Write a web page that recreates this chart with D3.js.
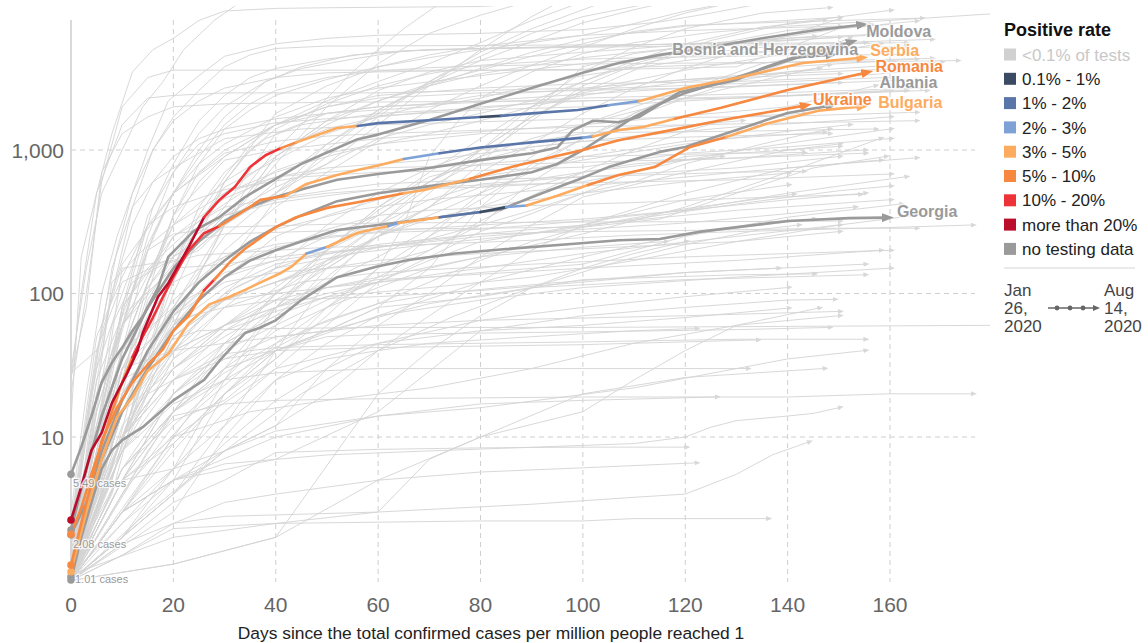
<!DOCTYPE html>
<html>
<head>
<meta charset="utf-8">
<title>Days since the total confirmed cases per million people reached 1</title>
<script src="https://cdn.jsdelivr.net/npm/d3@7"></script>
<style>
  body { margin: 0; background: #fff; }
  text { font-family: "Liberation Sans", Arial, Helvetica, sans-serif; }
</style>
</head>
<body>
<div id="chart"></div>
<script>
// ---- data ----------------------------------------------------------------
const rateBands = ["<0.1% of tests", "0.1% - 1%", "1% - 2%", "2% - 3%", "3% - 5%",
                   "5% - 10%", "10% - 20%", "more than 20%", "no testing data"];
const xTicks = [0, 20, 40, 60, 80, 100, 120, 140, 160];
const yTicks = [10, 100, 1000];
const dateFrom = ["Jan", "26,", "2020"];
const dateTo = ["Aug", "14,", "2020"];

// highlighted countries: [day, cases per million]
const moldova = [[0,5.49],[2,8.5],[4,14],[6,24],[8,33],[10,42],[12,55],[14,69],[17,110],[19,180],[24,273],[29,341],[34,470],[40,630],[45,800],[50,960],[56,1190],[60,1280],[70,1620],[80,2100],[90,2700],[100,3450],[107,4040],[115,4600],[125,5200],[135,6000],[145,6800],[154,7430]];
const bosnia = [[0,2.08],[3,3.5],[6,8],[10,18],[15,40],[20,75],[25,120],[30,170],[35,230],[40,290],[45,350],[52,440],[60,500],[70,560],[80,620],[90,700],[95,800],[100,1000],[105,1300],[110,1700],[115,2100],[120,2500],[130,3200],[140,4200],[152,5600]];
const montenegro = [[0,2.25],[3,6],[6,14],[10,35],[15,80],[20,150],[25,230],[30,320],[35,400],[40,470],[45,530],[52,620],[60,680],[70,750],[80,850],[90,950],[95,1040],[98,1370],[102,1600],[107,1560],[111,1700],[119,2540],[130,3080],[135,3700],[141,4400],[148,4600]];
const albania = [[0,1.06],[3,3],[6,7],[10,15],[15,30],[20,55],[25,90],[30,130],[35,170],[40,200],[45,230],[52,277],[60,300],[72,340],[84,385],[92,500],[99,620],[105,760],[115,970],[120,1050],[130,1380],[140,1810],[148,2030]];
const georgia = [[0,1.01],[2,2],[4,3.5],[6,6],[8,8.1],[10,9.5],[14,11.7],[20,18],[26,25],[29,34],[34,53],[37,58],[40,65],[45,90],[52,130],[60,155],[66,171],[75,190],[85,204],[99,223],[107,235],[115,240],[123,270],[140,320],[152,335],[159,338]];
const serbia = [[0,2.64],[2,4.5],[4,8.1],[6,10.7],[8,17.3],[11,28],[13,40],[14,53],[17,95],[19,118],[23,211],[26,341],[29,449],[32,552],[35,762],[38,920],[41,1030],[44,1130],[47,1233],[52,1423],[56,1470],[60,1540],[70,1610],[80,1700],[84,1730],[90,1800],[99,1900],[105,2050],[111,2190],[120,2700],[130,3180],[143,4040],[154,4380]];
const romania = [[0,2.1],[2,3.2],[4,5.5],[6,9],[8,15],[10,24],[12,36],[14,50],[16,68],[18,95],[20,130],[23,200],[26,263],[29,295],[33,361],[37,449],[42,480],[46,580],[52,670],[56,725],[60,780],[65,865],[72,950],[80,1040],[90,1130],[100,1220],[102,1240],[107,1380],[112,1450],[118,1650],[127,1970],[140,2620],[155,3440]];
const ukraine = [[0,1.28],[2,2.5],[4,4.8],[6,9.5],[9,16],[12,24],[15,32],[18,41],[20,55],[23,70],[26,105],[28,125],[31,165],[34,205],[40,290],[44,340],[50,395],[56,433],[60,460],[65,500],[69,526],[78,630],[86,760],[94,893],[100,1000],[107,1170],[117,1370],[127,1610],[136,1830],[143,2030]];
const bulgaria = [[0,1.15],[3,3],[6,7],[9,13.8],[12,19],[15,29],[19,38],[23,62],[27,84],[31,95],[34,106],[38,124],[41,139],[43,153],[46,190],[50,211],[56,265],[62,295],[64,310],[72,340],[80,370],[85,400],[89,410],[95,480],[101,570],[107,670],[114,760],[121,1050],[128,1230],[136,1530],[146,1880],[154,2000]];

// positive-rate bands along each coloured line: [fromDay, toDay, band index]
const serbiaRate = [[0,26,7],[26,41,6],[41,44,5],[44,56,4],[56,80,2],[80,84,1],[84,105,2],[105,111,3],[111,154,4]];
const romaniaRate = [[0,12,5],[12,29,6],[29,42,5],[42,65,4],[65,72,3],[72,100,2],[100,102,3],[102,118,4],[118,155,5]];
const ukraineRate = [[0,26,5],[26,28,6],[28,65,5],[65,78,4],[78,143,5]];
const bulgariaRate = [[0,46,4],[46,50,3],[50,62,4],[62,64,3],[64,72,4],[72,80,2],[80,85,1],[85,89,3],[89,101,4],[101,128,5],[128,154,4]];

const greyNames = ["Moldova", "Bosnia and Herzegovina", "", "Albania", "Georgia"];
const greySeries = [moldova, bosnia, montenegro, albania, georgia];
const colourNames = ["Bulgaria", "Ukraine", "Romania", "Serbia"];
const colourSeries = [bulgaria, ukraine, romania, serbia];
const colourRates = [bulgariaRate, ukraineRate, romaniaRate, serbiaRate];

// every other country, thin grey
const others = [
  [[0,13],[2,180],[5,500],[8,1300],[12,3500],[16,5000],[20,6000],[25,8000],[30,9300],[40,9700],[50,9800],[80,10000],[100,11000]],
  [[0,29],[3,150],[6,500],[10,1000],[14,2000],[18,3000],[22,5000],[28,8000],[35,12000]],
  [[0,1.6],[3,13],[6,60],[9,200],[12,500],[15,1000],[19,2200],[25,3300],[30,4500],[40,5500],[50,6000],[60,6300],[80,6500],[100,6900],[115,7800],[125,9000],[135,10500]],
  [[0,2.9],[3,20],[6,100],[9,250],[12,500],[16,1000],[20,1700],[25,2600],[30,3800],[35,4600],[40,5100],[50,5300],[80,5350],[120,5450],[150,5600],[168,5900]],
  [[0,1.1],[5,10],[10,150],[15,160],[20,170],[25,200],[30,300],[35,600],[40,1000],[45,1500],[50,2300],[55,3500],[60,5000],[65,7000],[72,10500]],
  [[0,28],[5,40],[10,120],[20,180],[30,300],[40,500],[50,900],[60,1700],[70,3000],[80,4800],[90,7000],[100,9500],[105,11000]],
  [[0,1.8],[4,8],[8,40],[12,130],[16,400],[20,800],[25,1600],[30,2400],[35,3200],[40,3700],[50,4300],[60,4800],[70,5000],[80,5100],[100,5250],[120,5500],[135,5800],[150,7000],[165,7900]],
  [[0,1.3],[4,5],[8,30],[12,100],[16,250],[20,500],[25,900],[30,1500],[35,2100],[40,2600],[50,3200],[60,3550],[70,3750],[80,3850],[100,3970],[130,4060],[160,4130],[173,4200]],
  [[0,1.05],[5,4],[10,25],[15,100],[20,350],[25,800],[30,1400],[35,1900],[40,2400],[50,3100],[60,3800],[70,4400],[80,5000],[90,5600],[100,6300],[110,7600],[120,9300],[128,10500]],
  [[0,1.2],[5,15],[10,60],[15,250],[20,700],[25,1300],[30,2000],[38,3000],[45,3700],[55,4300],[65,4900],[80,5100],[100,5300],[130,5600],[150,6100],[164,6600]],
  [[0,2.4],[4,20],[8,100],[12,400],[16,1000],[20,1600],[25,2200],[30,2700],[40,3200],[50,3450],[70,3550],[100,3650],[130,4000],[150,4200],[168,4350]],
  [[0,1.2],[5,8],[10,40],[15,200],[20,500],[25,1000],[30,1700],[38,3000],[45,3800],[55,4600],[70,5000],[100,5200],[130,5350],[163,5600]],
  [[0,1.0],[8,5],[14,30],[20,120],[25,300],[30,600],[35,1000],[40,1400],[50,2100],[60,2800],[70,3400],[80,3900],[100,4300],[120,4450],[140,4550],[165,4640]],
  [[0,1.1],[8,6],[14,40],[20,150],[25,350],[30,650],[35,1100],[40,1500],[50,2000],[60,2300],[80,2500],[100,2600],[130,2750],[165,3100]],
  [[0,1.2],[5,5],[10,25],[15,120],[20,350],[25,700],[30,1000],[40,1500],[50,1800],[60,2000],[80,2150],[100,2300],[130,2450],[166,2700]],
  [[0,1.1],[5,8],[10,40],[15,120],[20,300],[25,600],[30,900],[40,1500],[50,2000],[60,2400],[80,2700],[100,2900],[130,3000],[150,3200],[166,3600]],
  [[0,1.2],[5,20],[10,60],[15,110],[20,180],[30,500],[40,900],[50,1500],[60,2200],[70,2900],[80,3600],[90,4500],[100,5500],[110,6700],[120,7400],[140,7800],[166,8300]],
  [[0,1.5],[4,20],[8,150],[12,400],[16,600],[20,750],[30,1200],[45,1400],[60,1500],[100,1650],[140,1720],[165,1830]],
  [[0,1.4],[4,10],[8,120],[14,200],[20,300],[30,600],[40,1000],[50,1400],[60,1700],[80,2000],[100,2200],[130,2300],[163,2600]],
  [[0,1.2],[5,10],[10,80],[15,350],[20,700],[25,1100],[30,1300],[40,1550],[50,1650],[80,1900],[100,2000],[130,2300],[167,2600]],
  [[0,1.0],[5,8],[10,60],[15,220],[20,500],[25,800],[30,1100],[40,1700],[50,2300],[60,2700],[80,3300],[100,4000],[120,4500],[140,5000],[163,5300]],
  [[0,1.2],[10,6],[20,13],[30,18],[40,35],[50,80],[60,150],[65,300],[70,900],[75,1500],[80,2300],[90,3500],[100,4700],[110,5600],[125,6600],[140,7300],[160,8000],[180,8900]],
  [[0,1.3],[8,5],[14,30],[20,150],[25,400],[30,700],[38,1200],[45,1500],[60,1800],[80,1950],[95,2200],[105,3000],[115,4300],[125,5800],[140,7600],[160,9400]],
  [[0,1.1],[5,10],[10,40],[15,80],[20,150],[30,350],[40,550],[50,800],[60,1500],[70,2800],[80,5000],[90,8500],[96,11000]],
  [[0,1.2],[5,4],[10,10],[15,30],[20,60],[30,150],[40,450],[50,1000],[60,1900],[70,2900],[80,4200],[90,5700],[100,7700],[110,9500],[118,11000]],
  [[0,1.0],[5,5],[10,15],[15,40],[20,70],[30,200],[40,400],[50,700],[60,1150],[70,1900],[80,2800],[90,3900],[100,5200],[110,7000],[120,9000],[130,10800]],
  [[0,2.4],[5,40],[10,160],[20,500],[30,900],[40,1500],[50,2200],[60,3000],[70,4000],[80,5600],[90,8000],[100,10800]],
  [[0,1.3],[5,20],[10,40],[20,80],[30,300],[40,800],[50,2000],[60,4000],[70,6500],[80,8700],[88,10500]],
  [[0,1.0],[10,15],[20,60],[30,300],[40,900],[50,1600],[60,2600],[70,3500],[80,4200],[100,4800],[120,5400],[140,6000],[165,6600]],
  [[0,1.0],[10,20],[20,80],[30,250],[40,500],[50,1100],[60,1900],[70,2800],[80,3700],[90,4800],[100,5900],[120,7300],[150,8400]],
  [[0,1.0],[10,10],[20,60],[30,300],[40,900],[50,1600],[60,2200],[70,2800],[80,3400],[100,4400],[120,5200],[150,6100]],
  [[0,1.3],[10,10],[20,100],[30,600],[40,1800],[50,2800],[60,3800],[70,4600],[80,5300],[100,6300],[120,6800],[150,7300]],
  [[0,1.1],[4,15],[8,100],[12,300],[16,600],[20,900],[25,1200],[30,1400],[40,1650],[50,1800],[60,2000],[80,2200],[100,2450],[120,2700],[150,2950]],
  [[0,1.3],[5,10],[10,80],[15,150],[20,220],[25,320],[30,420],[40,720],[50,950],[60,1100],[70,1300],[80,1600],[90,2000],[100,2400],[120,3000],[140,3500],[170,4100]],
  [[0,1.1],[8,4],[14,25],[20,150],[25,300],[30,550],[40,850],[50,1300],[60,1700],[70,2100],[80,2400],[100,2650],[130,2900],[159,3200]],
  [[0,1.0],[10,4],[20,15],[30,45],[40,100],[50,200],[60,350],[70,600],[80,900],[90,1200],[100,1500],[120,2300],[148,3900]],
  [[0,1.0],[10,8],[20,25],[30,55],[40,90],[50,150],[60,250],[70,400],[80,700],[90,1100],[100,1800],[110,2700],[120,3700],[135,5500],[150,8200]],
  [[0,1.0],[10,10],[20,40],[30,60],[40,80],[50,120],[60,180],[70,280],[80,450],[90,750],[100,1200],[110,1700],[120,2300],[135,3500],[152,6000]],
  [[0,1.0],[10,10],[20,25],[30,45],[40,70],[50,130],[60,250],[70,500],[80,1000],[90,2000],[100,3500],[110,5200],[120,7000],[135,9000],[148,9800]],
  [[0,1.0],[10,3],[20,9],[30,20],[40,45],[50,80],[60,130],[70,200],[80,320],[90,480],[100,700],[110,1000],[120,1350],[130,1700],[143,1800]],
  [[0,1.1],[10,10],[20,30],[30,60],[40,100],[50,170],[60,300],[70,550],[80,850],[90,1050],[100,1150],[120,1230],[148,1300]],
  [[0,1.0],[10,8],[20,35],[30,80],[40,150],[50,300],[60,500],[70,750],[80,1000],[100,1300],[131,1600]],
  [[0,1.0],[10,5],[20,15],[30,28],[40,45],[50,65],[60,85],[70,120],[80,170],[90,230],[100,290],[120,390],[141,490]],
  [[0,1.0],[10,25],[20,40],[30,60],[40,80],[50,100],[60,120],[70,180],[80,270],[90,360],[100,500],[110,600],[120,800],[135,1100],[148,1400]],
  [[0,1.1],[10,2.5],[20,6],[30,25],[40,80],[50,110],[60,125],[70,130],[80,140],[100,160],[120,250],[140,340],[162,420]],
  [[0,1.2],[4,10],[8,60],[12,120],[18,160],[25,185],[35,195],[50,210],[70,220],[90,235],[110,255],[130,270],[155,285],[176,300]],
  [[0,1.0],[5,5],[10,20],[15,35],[20,48],[25,55],[30,56],[40,57],[60,58],[100,58],[140,59],[180,60]],
  [[0,1.1],[5,3],[10,20],[15,90],[20,180],[25,240],[30,260],[45,270],[60,280],[80,285],[100,290],[115,330],[130,500],[145,750],[159,900]],
  [[0,1.5],[5,10],[10,70],[15,200],[20,260],[30,290],[45,300],[60,310],[100,315],[140,318],[150,320]],
  [[0,1.2],[5,3],[10,8],[15,20],[20,25],[30,38],[40,42],[60,44],[100,46],[130,48],[155,48]],
  [[0,1.0],[10,1.5],[20,2.5],[30,2.8],[60,3.0],[90,3.4],[110,3.8],[120,4.0],[130,5.5],[137,7.5],[144,9.2]],
  [[0,1.1],[5,2],[10,4],[15,8],[20,14],[30,17],[40,18],[60,18.5],[100,19],[140,19],[160,20],[176,20]],
  [[0,1.0],[10,3],[20,8],[30,20],[40,35],[50,70],[60,150],[70,250],[80,400],[90,550],[100,700],[110,800],[120,850],[155,950]],
  [[0,1.0],[10,6],[20,15],[30,30],[40,55],[50,80],[60,110],[70,150],[80,180],[100,210],[116,230]],
  [[0,1.0],[10,15],[20,45],[30,90],[40,120],[50,170],[60,210],[70,240],[80,300],[90,380],[100,500],[110,700],[120,900],[140,1000],[150,1060]],
  [[0,1.0],[5,5],[10,30],[15,70],[20,120],[30,180],[40,220],[60,270],[80,300],[100,330],[120,380],[140,500],[163,650]],
  [[0,1.0],[5,5],[10,40],[15,120],[20,250],[30,460],[40,650],[50,750],[70,850],[90,1050],[110,1250],[130,1450],[150,1600],[160,1700]],
  [[0,1.0],[10,15],[20,60],[30,130],[40,250],[50,350],[60,450],[70,550],[80,650],[100,850],[120,1100],[140,1350],[152,1500]],
  [[0,1.0],[10,10],[20,50],[30,100],[40,200],[50,280],[60,350],[70,380],[90,410],[110,430],[130,460],[154,490]],
  [[0,1.0],[10,20],[20,70],[30,150],[40,210],[50,250],[60,265],[80,280],[100,320],[120,380],[140,450],[155,500]],
  [[0,1.2],[5,10],[10,40],[20,150],[30,350],[40,450],[50,500],[60,530],[80,550],[100,600],[110,700],[120,850],[135,1050],[150,1250],[160,1400]],
  [[0,2.5],[5,50],[10,130],[15,300],[20,400],[30,530],[45,650],[60,700],[80,720],[100,760],[110,850],[120,950],[140,1050],[160,1200]],
  [[0,1.3],[5,15],[10,60],[20,160],[30,500],[40,700],[50,900],[60,1100],[80,1300],[100,1320],[130,1350],[157,1400]],
  [[0,2.3],[5,30],[10,100],[15,300],[20,500],[30,950],[40,1150],[50,1250],[60,1300],[100,1450],[130,1520],[165,1600]],
  [[0,1.6],[5,20],[10,60],[20,200],[30,350],[40,430],[50,480],[60,530],[80,570],[100,590],[130,620],[160,680]],
  [[0,1.5],[5,10],[10,80],[20,250],[30,400],[40,460],[50,520],[60,580],[80,620],[100,650],[130,750],[150,900]],
  [[0,1.0],[10,10],[20,50],[30,90],[40,120],[50,150],[60,170],[70,180],[80,190],[100,205],[130,230],[150,270]],
  [[0,2.3],[5,25],[10,70],[20,150],[30,160],[40,180],[60,210],[80,250],[100,280],[120,310],[140,360],[153,400]],
  [[0,1.0],[5,8],[10,40],[20,150],[30,300],[40,600],[50,1100],[60,1800],[70,3000],[80,4500],[90,6500],[100,8500],[110,10000],[115,10800]],
  [[0,1.0],[10,10],[20,30],[30,60],[40,110],[50,200],[60,380],[70,600],[80,900],[90,1600],[100,2800],[110,3900],[120,4600],[135,5200],[150,5600]],
  [[0,1.0],[10,10],[20,50],[30,90],[40,120],[50,160],[60,250],[70,400],[80,800],[90,1800],[100,3800],[110,4700],[120,5200],[140,6000],[145,6200]],
  [[0,1.0],[10,15],[20,70],[30,140],[40,170],[50,250],[60,350],[70,600],[80,1000],[90,1700],[100,2500],[110,2900],[120,3100],[150,3400]],
  [[0,1.0],[10,1.5],[20,2.3],[40,2.5],[80,2.6],[100,2.6],[110,2.7],[136,2.7]],
  [[0,1.0],[10,1.8],[20,2.5],[30,3.5],[40,4.0],[60,5.0],[80,5.7],[100,6.1],[122,6.6]],
  [[0,1.0],[10,1.8],[20,3.5],[30,5],[40,7.8],[60,8.2],[80,8.4],[100,8.5],[120,8.5]],
  [[0,1.0],[10,3],[20,5],[30,6.5],[50,7.5],[70,8],[110,9],[120,10],[125,11.7],[130,13],[140,14],[145,14.6],[150,16]],
  [[0,1.0],[20,1.3],[40,2],[60,5],[80,10],[100,20],[120,26],[147,30]],
  [[0,1.0],[10,5],[20,9],[30,20],[40,40],[50,55],[60,80],[80,95],[100,125],[130,135],[145,137]],
  [[0,1.0],[10,3],[20,5],[40,7],[60,15],[80,55],[100,70],[120,80],[140,90],[149,91]],
  [[0,1.1],[20,2],[40,2.5],[60,3],[70,7],[80,10],[100,15],[110,25],[120,40],[130,60],[146,79]],
  [[0,1.0],[20,3],[30,10],[40,25],[50,35],[60,40],[70,45],[90,50],[110,55],[122,57]],
  [[0,1.0],[10,3],[20,5],[30,20],[40,40],[50,50],[60,52],[100,54],[130,56],[148,58]],
  [[0,1.0],[10,10],[20,25],[30,35],[40,40],[60,42],[100,44],[134,47.5]],
  [[0,1.1],[10,8],[20,17],[30,25],[40,28],[60,30],[100,30],[132,30]],
  [[0,1.0],[10,2],[20,5],[40,10],[60,14],[80,17],[100,18],[126,19]],
  [[0,1.0],[20,10],[40,30],[60,45],[80,55],[100,60],[120,68],[140,79]],
  [[0,1.0],[5,5],[10,40],[20,150],[30,400],[40,1300],[50,1800],[60,1900],[70,2000],[80,2300],[90,2800],[100,3300],[120,4200],[140,5000],[155,5600]],
  [[0,1.0],[10,6],[20,15],[30,40],[40,100],[50,200],[60,400],[70,700],[80,1200],[90,2000],[100,3000],[110,4200],[120,5500],[135,7200],[147,8000]],
  [[0,1.0],[10,30],[20,70],[30,120],[40,140],[60,160],[70,200],[80,300],[90,600],[100,1000],[110,1800],[120,2600],[135,4000],[158,5500]],
  [[0,1.0],[10,2],[20,6],[30,15],[40,30],[50,60],[60,120],[70,250],[80,500],[90,900],[100,1500],[110,2000],[120,2600],[140,3500],[146,3700]],
  [[0,1.1],[10,30],[20,150],[30,300],[40,500],[50,800],[60,1200],[70,1500],[80,1800],[90,2200],[100,3000],[110,4000],[120,5000],[140,6800],[156,7500]],
  [[0,1.0],[10,5],[20,15],[30,30],[40,40],[50,55],[60,80],[70,150],[80,400],[90,800],[100,1200],[110,1800],[120,2500],[140,3800],[165,4300]],
  [[0,1.0],[10,20],[20,60],[30,90],[40,100],[50,110],[60,130],[80,180],[100,260],[120,400],[140,700],[158,1200]],
  [[0,1.0],[10,5],[20,20],[30,40],[40,60],[50,90],[60,120],[70,170],[80,230],[100,300],[120,500],[140,750],[158,850]],
  [[0,1.0],[10,5],[20,20],[30,40],[40,80],[50,170],[60,250],[70,350],[80,500],[90,700],[100,900],[120,1150],[147,1330]],
  [[0,1.0],[10,2],[20,4],[30,8],[40,12],[50,20],[60,40],[70,70],[80,120],[90,200],[100,300],[120,450],[140,570]],
  [[0,1.0],[10,3],[20,10],[30,30],[40,80],[50,200],[60,400],[70,650],[80,800],[100,900],[130,950],[143,960]],
  [[0,1.0],[10,2],[20,4],[30,12],[40,40],[50,120],[60,270],[70,400],[80,550],[100,700],[120,850],[127,900]],
  [[0,1.0],[10,25],[20,80],[30,130],[40,170],[50,190],[60,210],[80,260],[100,270],[120,275],[150,285],[165,285]],
  [[0,1.0],[10,5],[20,6],[30,8],[40,12],[50,30],[60,60],[70,100],[80,180],[90,300],[100,470],[120,700],[140,1000],[150,1100]],
  [[0,1.0],[5,10],[10,30],[20,40],[30,45],[50,55],[70,85],[90,110],[120,125],[155,135]],
  [[0,1.0],[10,15],[20,65],[30,80],[40,90],[60,95],[80,105],[100,120],[120,140],[155,160]],
  [[0,1.0],[20,1.3],[40,2],[60,20],[70,40],[80,70],[90,110],[100,150],[110,190],[120,230]],
  [[0,1.0],[10,6],[20,15],[30,25],[40,60],[50,150],[60,250],[70,330],[80,400],[100,500],[120,600],[140,690]],
  [[0,1.0],[10,20],[20,40],[30,100],[40,150],[50,200],[60,300],[70,450],[80,580],[100,650],[130,700],[143,710]],
  [[0,1.0],[10,15],[20,30],[30,50],[40,80],[50,160],[60,300],[70,600],[80,1000],[90,1700],[100,2600],[120,3600],[140,4700],[150,5200]],
  [[0,25],[2,100],[5,500],[10,1500],[15,2300],[20,2400],[30,2500],[60,2500],[100,2700],[130,3300],[163,3700]],
  [[0,26],[3,80],[6,700],[10,1300],[15,1700],[20,2000],[30,2100],[50,2150],[100,2200],[140,2400],[160,2600]],
  [[0,20],[3,100],[6,600],[10,2000],[15,3200],[20,3600],[40,3600],[100,3600],[130,3800],[150,7000],[160,7500]],
  [[0,2.5],[10,60],[20,300],[30,500],[40,650],[60,750],[100,820],[130,880],[155,1000]],
  [[0,2.3],[10,40],[20,350],[30,850],[40,1000],[60,1200],[100,1500],[140,2000],[157,2800]],
  [[0,1.0],[10,4],[20,12],[30,25],[40,40],[60,70],[80,90],[100,110],[130,130],[160,150]],
  [[0,1.2],[10,8],[20,20],[30,35],[40,50],[60,60],[80,65],[120,70],[150,75]],
  [[0,1.0],[10,3],[20,6],[30,12],[40,25],[50,45],[60,70],[80,120],[100,180],[120,260],[145,330]],
  [[0,1.1],[10,12],[20,35],[30,60],[40,90],[50,110],[70,130],[100,150],[130,170],[158,200]],
  [[0,1.0],[10,6],[20,20],[30,45],[40,70],[50,95],[60,120],[80,150],[100,190],[130,250],[150,300]],
  [[0,1.0],[10,2],[20,4],[30,9],[40,18],[50,30],[60,45],[80,65],[100,80],[120,95],[140,110]],
  [[0,1.3],[10,20],[20,60],[30,110],[40,160],[60,220],[80,260],[100,300],[130,380],[160,450]],
  [[0,1.0],[15,3],[30,8],[45,20],[60,40],[75,70],[90,110],[105,160],[120,220],[135,280],[142,300]],
  [[0,1.0],[10,5],[20,10],[35,15],[50,18],[70,22],[90,30],[110,45],[130,60],[150,70]],
  [[0,1.1],[10,10],[20,30],[30,55],[40,75],[50,95],[70,110],[90,130],[110,170],[130,230],[150,300],[165,350]],
  [[0,1.0],[10,2.5],[20,5],[30,8],[40,11],[60,14],[80,16],[110,22],[140,35],[155,40]],
  [[0,1.0],[8,6],[16,25],[24,60],[32,110],[40,150],[55,190],[70,220],[90,260],[110,330],[130,420],[150,520],[160,560]],
  [[0,1.2],[10,15],[20,40],[30,80],[45,120],[60,140],[90,160],[120,180],[160,200]],
  [[0,1.0],[12,5],[24,15],[36,35],[48,60],[60,85],[72,100],[84,110],[96,120],[120,140],[138,150]],
  [[0,1.4],[10,30],[20,90],[30,180],[40,280],[55,380],[70,450],[90,520],[110,600],[130,700],[150,800],[165,880]]
];

// ---- layout ---------------------------------------------------------------
const W = 1148, H = 643;
const bandColors = ["#d0d0d0", "#3c4b64", "#5a76a9", "#7ea1d6", "#fdab5f",
                    "#f7883f", "#ee3338", "#bb0d2b", "#9a9a9a"];
const labelNudge = {
  "Moldova": [7, 12, "start"],
  "Bosnia and Herzegovina": [9, 12, "end"],
  "Albania": [51, -18, "start"],
  "Serbia": [11, -2, "start"],
  "Romania": [11, -1, "start"],
  "Ukraine": [10, -1, "start"],
  "Bulgaria": [19, 1, "start"],
  "Georgia": [12, -1, "start"]
};

const x = d3.scaleLinear().domain([0, 160]).range([71, 890]);
const y = d3.scaleLog().domain([1, 1000]).range([580.5, 150]);
const line = d3.line().x(d => x(d[0])).y(d => y(d[1]));

const svg = d3.select("#chart").append("svg")
  .attr("width", W).attr("height", H);
const defs = svg.append("defs");
defs.append("clipPath").attr("id", "plot-clip")
  .append("rect").attr("x", 60).attr("y", 6).attr("width", 930).attr("height", 600);

function addArrow(id, color, len, wid, refX) {
  defs.append("marker").attr("id", id)
    .attr("markerUnits", "userSpaceOnUse")
    .attr("viewBox", `0 0 ${len} ${wid}`)
    .attr("markerWidth", len).attr("markerHeight", wid)
    .attr("refX", refX).attr("refY", wid / 2)
    .attr("orient", "auto")
    .append("path").attr("d", `M0,0L${len},${wid / 2}L0,${wid}Z`).attr("fill", color);
}
addArrow("arrow-bg", "#d8d8d8", 6, 5, 1);
bandColors.forEach((c, i) => addArrow("arrow-" + i, c, 12, 9, 3));
addArrow("arrow-legend", "#666", 7, 6, 1);

// ---- grid & axes ----------------------------------------------------------
const grid = svg.append("g");
grid.selectAll(".hgrid").data(yTicks).enter().append("line")
  .attr("x1", 71).attr("x2", 975)
  .attr("y1", d => y(d)).attr("y2", d => y(d))
  .attr("stroke", "#cfcfcf").attr("stroke-dasharray", "5,4");
grid.selectAll(".vgrid").data(xTicks.filter(d => d > 0)).enter().append("line")
  .attr("x1", d => x(d)).attr("x2", d => x(d))
  .attr("y1", 20).attr("y2", 582)
  .attr("stroke", "#cfcfcf").attr("stroke-dasharray", "5,4");
grid.append("line").attr("x1", 71).attr("x2", 71).attr("y1", 20).attr("y2", 582)
  .attr("stroke", "#cccccc").attr("stroke-width", 1.5);

svg.append("g").selectAll("text").data(yTicks).enter().append("text")
  .attr("x", 64).attr("y", d => y(d)).attr("dy", "0.36em")
  .attr("text-anchor", "end").attr("font-size", 21).attr("fill", "#666")
  .text(d => d3.format(",")(d));
svg.append("g").selectAll("text").data(xTicks).enter().append("text")
  .attr("x", d => x(d)).attr("y", 604).attr("dy", "0.36em")
  .attr("text-anchor", "middle").attr("font-size", 21).attr("fill", "#666")
  .text(d => d);
svg.append("text")
  .attr("x", 491).attr("y", 639).attr("text-anchor", "middle")
  .attr("font-size", 17.4).attr("fill", "#222")
  .text("Days since the total confirmed cases per million people reached 1");

// ---- lines ----------------------------------------------------------------
const plot = svg.append("g").attr("clip-path", "url(#plot-clip)");

plot.append("g").selectAll("path").data(others).enter().append("path")
  .attr("d", line)
  .attr("fill", "none").attr("stroke", "#d4d4d4").attr("stroke-width", 0.9)
  .attr("marker-end", "url(#arrow-bg)");

const hi = plot.append("g")
  .attr("fill", "none").attr("stroke-width", 2.6)
  .attr("stroke-linejoin", "round").attr("stroke-linecap", "round");

greySeries.forEach(s => {
  hi.append("path").attr("d", line(s))
    .attr("stroke", bandColors[8]).attr("marker-end", "url(#arrow-8)");
});
colourSeries.forEach((s, k) => {
  const rates = colourRates[k];
  rates.forEach((r, j) => {
    const pts = s.filter(d => d[0] >= r[0] && d[0] <= r[1]);
    const p = hi.append("path").attr("d", line(pts)).attr("stroke", bandColors[r[2]]);
    if (j === rates.length - 1) p.attr("marker-end", "url(#arrow-" + r[2] + ")");
  });
});

// start dots
const starts = greySeries.map(s => [s[0], 8])
  .concat(colourSeries.map((s, k) => [s[0], colourRates[k][0][2]]));
plot.append("g").selectAll("circle").data(starts).enter().append("circle")
  .attr("cx", d => x(d[0][0])).attr("cy", d => y(d[0][1])).attr("r", 3.8)
  .attr("fill", d => bandColors[d[1]]);

// start value notes: highest, median, lowest
const startVals = starts.map(d => d[0][1]).sort(d3.ascending);
const notes = [
  [d3.max(startVals), 2, 13],
  [d3.median(startVals), 2, 13],
  [d3.min(startVals), 4, 3]
];
svg.append("g").selectAll("text").data(notes).enter().append("text")
  .attr("x", d => x(0) + d[1]).attr("y", d => y(d[0]) + d[2])
  .attr("font-size", 11).attr("fill", "#9a9a9a")
  .attr("stroke", "#fff").attr("stroke-width", 2.5).attr("stroke-opacity", 0.8)
  .attr("paint-order", "stroke")
  .text(d => d3.format(".2f")(d[0]) + " cases");

// end labels
const ends = greySeries.map((s, k) => [greyNames[k], s[s.length - 1], 8])
  .concat(colourSeries.map((s, k) => [colourNames[k], s[s.length - 1],
    colourRates[k][colourRates[k].length - 1][2]]))
  .filter(d => d[0] !== "");
svg.append("g").selectAll("text").data(ends).enter().append("text")
  .attr("x", d => x(d[1][0]) + labelNudge[d[0]][0])
  .attr("y", d => y(d[1][1]) + labelNudge[d[0]][1])
  .attr("text-anchor", d => labelNudge[d[0]][2])
  .attr("font-size", 16).attr("font-weight", "bold")
  .attr("fill", d => bandColors[d[2]])
  .attr("stroke", "#fff").attr("stroke-width", 3).attr("stroke-opacity", 0.7)
  .attr("paint-order", "stroke")
  .text(d => d[0]);

// ---- legend ---------------------------------------------------------------
const legend = svg.append("g").attr("transform", "translate(1004,0)");
legend.append("text").attr("x", 0).attr("y", 36)
  .attr("font-size", 18).attr("font-weight", "bold").attr("fill", "#111")
  .text("Positive rate");
const items = legend.selectAll(".item").data(rateBands).enter().append("g")
  .attr("transform", (d, i) => `translate(0,${54.5 + i * 24.3})`);
items.append("rect").attr("x", 0).attr("y", -6).attr("width", 12).attr("height", 12)
  .attr("fill", (d, i) => bandColors[i]);
items.append("text").attr("x", 18).attr("y", 0).attr("dy", "0.36em")
  .attr("font-size", 17).attr("fill", (d, i) => i === 0 ? "#c8c8c8" : "#222")
  .text(d => d);
legend.append("line").attr("x1", 0).attr("x2", 131).attr("y1", 268).attr("y2", 268)
  .attr("stroke", "#d6d6d6").attr("stroke-width", 1.2);

legend.append("g").selectAll("text").data(dateFrom).enter().append("text")
  .attr("x", 0).attr("y", (d, i) => 296 + i * 18)
  .attr("font-size", 17).attr("fill", "#444").text(d => d);
legend.append("g").selectAll("text").data(dateTo).enter().append("text")
  .attr("x", 100).attr("y", (d, i) => 296 + i * 18)
  .attr("font-size", 17).attr("fill", "#444").text(d => d);
legend.append("line").attr("x1", 44).attr("x2", 90).attr("y1", 308).attr("y2", 308)
  .attr("stroke", "#666").attr("stroke-width", 1.3).attr("marker-end", "url(#arrow-legend)");
legend.append("g").selectAll("circle").data([0, 1, 2]).enter().append("circle")
  .attr("cx", d => 53 + d * 13).attr("cy", 308).attr("r", 2.4).attr("fill", "#666");
</script>
</body>
</html>
